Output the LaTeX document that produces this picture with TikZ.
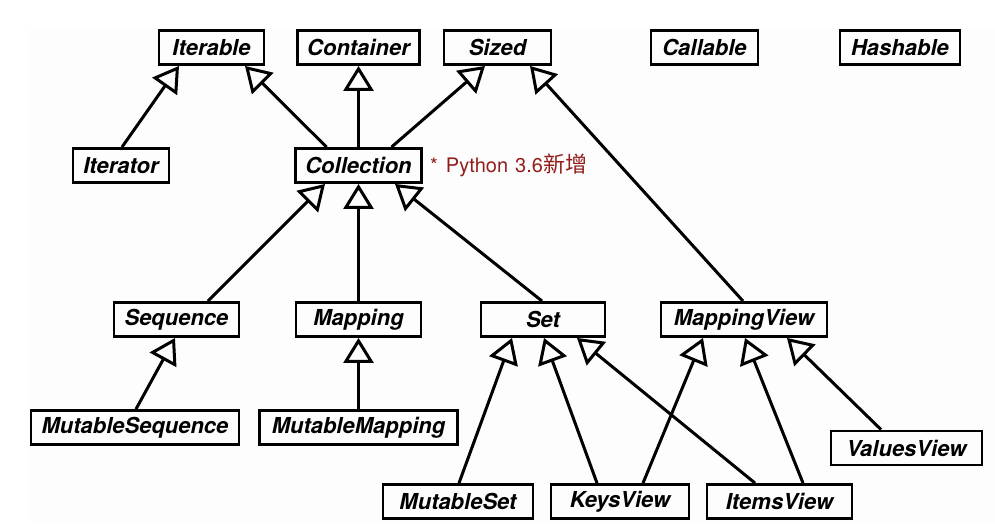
\documentclass[tikz,border=0pt]{standalone}
\usepackage{fontspec}
\setmainfont{TeX Gyre Heros}
\newfontfamily\cjk{Noto Sans CJK SC}
\usetikzlibrary{arrows.meta}
\definecolor{notered}{RGB}{146,30,26}
\begin{document}
\begin{tikzpicture}[x=1pt,y=-1pt,
 cls/.style={draw, line width=2.9pt, rectangle, inner sep=0pt, minimum height=34pt,
   font=\fontsize{22}{22}\selectfont\bfseries\itshape},
 inh/.style={line width=3pt, -{Triangle[open,length=25pt,width=30pt]}},
 note/.style={text=notered, inner sep=0pt, anchor=base west, font=\fontsize{20}{20}\selectfont}
]
\useasboundingbox (0,0) rectangle (995,531);
\fill[black!0.8] (29,29) rectangle (995,522);

% top row
\node[cls, minimum width=105pt] (iterable)  at (211.5,47.5) {Iterable};
\node[cls, minimum width=122pt] (container) at (358.5,47.5) {Container};
\node[cls, minimum width=107pt] (sized)     at (497.5,47.5) {Sized};
\node[cls, minimum width=107pt] (callable)  at (704.5,47.5) {Callable};
\node[cls, minimum width=120pt] (hashable)  at (900,47.5)   {Hashable};

% second row
\node[cls, minimum width=96pt]  (iterator)   at (121,165.5)   {Iterator};
\node[cls, minimum width=126pt] (collection) at (358.5,165.5) {Collection};
\node[note] (note) at (430,172) {*\hspace{8pt}Python\hspace{7pt}3.6\hspace{1pt}{\cjk\fontsize{22}{22}\selectfont 新增}};

% third row
\node[cls, minimum width=125pt] (sequence)    at (176.5,319.5) {Sequence};
\node[cls, minimum width=125pt] (mapping)     at (358.5,319.5) {Mapping};
\node[cls, minimum width=124pt] (set)         at (543,319.5)   {Set};
\node[cls, minimum width=166pt] (mappingview) at (744,319.5)   {MappingView};

% fourth row
\node[cls, minimum width=208pt] (mutseq)  at (135,427.5)   {MutableSequence};
\node[cls, minimum width=198pt] (mutmap)  at (358.5,427.5) {MutableMapping};
\node[cls, minimum width=151pt] (values)  at (906.5,448)   {ValuesView};

% bottom row
\node[cls, minimum width=150pt] (mutset) at (458,501.5)   {MutableSet};
\node[cls, minimum width=138pt] (keys)   at (620,501.5)   {KeysView};
\node[cls, minimum width=145pt] (items)  at (779.5,501.5) {ItemsView};

% inheritance
\draw[inh] ([xshift=1pt]iterator.north) -- ([xshift=-32.5pt]iterable.south);
\draw[inh] ([xshift=-32pt]collection.north) -- ([xshift=33.5pt]iterable.south);
\draw[inh] (collection.north) -- (container.south);
\draw[inh] ([xshift=33pt]collection.north) -- ([xshift=-12.5pt]sized.south);
\draw[inh] ([xshift=-1pt]mappingview.north) -- ([xshift=32.5pt]sized.south);

\draw[inh] ([xshift=31.5pt]sequence.north) -- ([xshift=-33.5pt]collection.south);
\draw[inh] (mapping.north) -- (collection.south);
\draw[inh] ([xshift=-1pt]set.north) -- ([xshift=36.5pt]collection.south);

\draw[inh] ([xshift=1pt]mutseq.north) -- ([xshift=-1.5pt]sequence.south);
\draw[inh] (mutmap.north) -- (mapping.south);

\draw[inh] ([xshift=1pt]mutset.north) -- ([xshift=-31pt]set.south);
\draw[inh] ([xshift=-23pt]keys.north) -- ([xshift=1pt]set.south);
\draw[inh] ([xshift=-24.5pt]items.north) -- ([xshift=34pt]set.south);

\draw[inh] ([xshift=23pt]keys.north) -- ([xshift=-41pt]mappingview.south);
\draw[inh] ([xshift=23.5pt]items.north) -- ([xshift=1pt]mappingview.south);
\draw[inh] ([xshift=-25.5pt]values.north) -- ([xshift=43pt]mappingview.south);
\end{tikzpicture}
\end{document}
